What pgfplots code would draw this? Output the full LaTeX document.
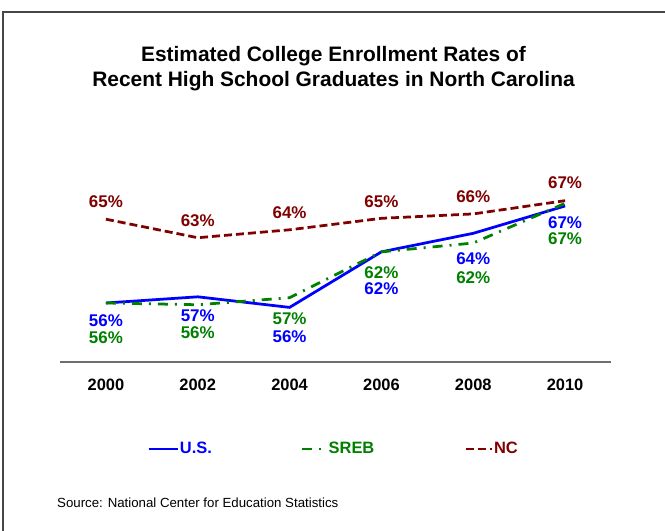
\documentclass[border=0pt]{standalone}
\usepackage{pgfplots}
\pgfplotsset{compat=1.18}
\usepackage{fontspec}
\setmainfont{Liberation Sans}
\definecolor{usblue}{RGB}{0,0,255}
\definecolor{srebgreen}{RGB}{0,128,0}
\definecolor{ncred}{RGB}{128,0,0}
\definecolor{framegray}{RGB}{70,70,70}
\definecolor{axgray}{RGB}{110,110,110}
\tikzset{lbl/.style={font=\bfseries\fontsize{17}{20}\selectfont, anchor=center, inner sep=0pt}}
\pgfplotsset{leglen/.style={legend image code/.code={\draw[##1] (0bp,0bp) -- (#1,0bp);}}}
\begin{document}
\begin{tikzpicture}[x=1bp,y=1bp]
\useasboundingbox (0,0) rectangle (665,531);
\draw[framegray, line width=1.5bp] (3,-1) -- (3,519) -- (667,519);
\node[anchor=base, font=\bfseries\fontsize{21}{25}\selectfont] at (333.5,469) {Estimated College Enrollment Rates of};
\node[anchor=base, font=\bfseries\fontsize{21}{25}\selectfont] at (333.5,444) {Recent High School Graduates in North Carolina};
\node[anchor=base west, inner sep=0pt, font=\fontsize{13.3}{16}\selectfont] at (57,23) {Source: National Center for Education Statistics};
\begin{axis}[
  at={(60bp,169bp)}, anchor=south west, scale only axis,
  width=551bp, height=192bp,
  xmin=-0.5, xmax=5.5, ymin=49.31, ymax=71.08,
  axis x line*=bottom, axis y line=none,
  axis line style={axgray, line width=1.5bp},
  xtick={0,1,2,3,4,5}, xticklabels={2000,2002,2004,2006,2008,2010},
  major tick length=0pt,
  xticklabel style={font=\bfseries\fontsize{16.5}{19}\selectfont, anchor=base, yshift=-29bp},
  clip=false,
  legend columns=3,
  legend style={draw=none, fill=none, inner sep=0pt,
    at={(axis description cs:0.1579,-0.453)}, anchor=west,
    font=\bfseries\fontsize{16.5}{19}\selectfont,
    nodes={inner xsep=1bp},
    /tikz/column 2/.style={column sep=88bp},
    /tikz/column 4/.style={column sep=89bp}},
]
\addplot[usblue, line width=2.75bp, leglen=29bp]
  coordinates {(0,56.0) (1,56.7) (2,55.5) (3,61.8) (4,63.9) (5,67.0)};
\addlegendentry{\textcolor{usblue}{U.S.}}
\addplot[srebgreen, line width=2.75bp, dash pattern=on 10bp off 7bp on 2bp off 7bp, leglen=24bp]
  coordinates {(0,56.0) (1,55.8) (2,56.6) (3,61.8) (4,62.8) (5,67.3)};
\addlegendentry{\textcolor{srebgreen}{SREB}}
\addplot[ncred, line width=2.75bp, dash pattern=on 8bp off 4bp, leglen=26bp]
  coordinates {(0,65.5) (1,63.4) (2,64.3) (3,65.6) (4,66.1) (5,67.6)};
\addlegendentry{\textcolor{ncred}{NC}}
% NC labels
\node[lbl, text=ncred] at (axis cs:0,67.45) {65\%};
\node[lbl, text=ncred] at (axis cs:1,65.3) {63\%};
\node[lbl, text=ncred] at (axis cs:2,66.2) {64\%};
\node[lbl, text=ncred] at (axis cs:3,67.45) {65\%};
\node[lbl, text=ncred] at (axis cs:4,68.0) {66\%};
\node[lbl, text=ncred] at (axis cs:5,69.6) {67\%};
% US labels
\node[lbl, text=usblue] at (axis cs:0,54.0) {56\%};
\node[lbl, text=usblue] at (axis cs:1,54.55) {57\%};
\node[lbl, text=usblue] at (axis cs:2,52.15) {56\%};
\node[lbl, text=usblue] at (axis cs:3,57.6) {62\%};
\node[lbl, text=usblue] at (axis cs:4,61.0) {64\%};
\node[lbl, text=usblue] at (axis cs:5,65.15) {67\%};
% SREB labels
\node[lbl, text=srebgreen] at (axis cs:0,52.1) {56\%};
\node[lbl, text=srebgreen] at (axis cs:1,52.6) {56\%};
\node[lbl, text=srebgreen] at (axis cs:2,54.2) {57\%};
\node[lbl, text=srebgreen] at (axis cs:3,59.45) {62\%};
\node[lbl, text=srebgreen] at (axis cs:4,58.9) {62\%};
\node[lbl, text=srebgreen] at (axis cs:5,63.25) {67\%};
\end{axis}
\end{tikzpicture}
\end{document}
